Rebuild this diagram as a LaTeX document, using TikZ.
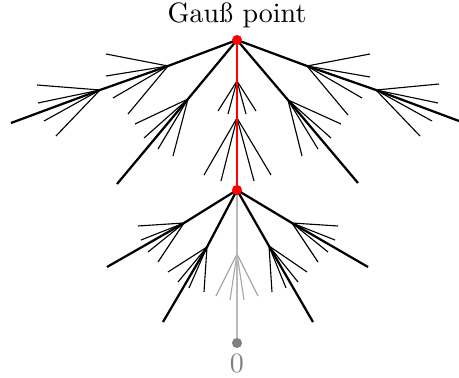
\documentclass[tikz,border=0pt]{standalone}
\usepackage{tikz}

\tikzset{
  branch/.style={thick},
  twig/.style={thin},
  apex/.style={circle, inner sep=0pt, minimum size=3.6pt},
}

\begin{document}
\begin{tikzpicture}[x=0.357pt, y=-0.357pt]
    \useasboundingbox (0,0) rectangle (459,378);

    % Points on the vertical path
    \coordinate (gauss) at (237,40);
    \coordinate (mid) at (237,190);
    \coordinate (zero) at (237,343);

    % Branch points
    \coordinate (ua1) at (168,66);
    \coordinate (ua2) at (100,90);
    \coordinate (ub) at (188,99);
    \coordinate (uc) at (288,100);
    \coordinate (ud1) at (307,66);
    \coordinate (ud2) at (376,90);
    \coordinate (ra) at (237,81);
    \coordinate (rb) at (237,118);
    \coordinate (la) at (184,223);
    \coordinate (lb) at (207,247);
    \coordinate (lc) at (269,246);
    \coordinate (ld) at (292,223);
    \coordinate (ga) at (237,254);

    % Ends of the thick branches
    \coordinate (uaend) at (11,123);
    \coordinate (ubend) at (117,184);
    \coordinate (ucend) at (358,183);
    \coordinate (udend) at (459,121);
    \coordinate (laend) at (107,267);
    \coordinate (lbend) at (163,322);
    \coordinate (lcend) at (313,322);
    \coordinate (ldend) at (368,267);

    % Thin fans, upper half
    \foreach \x/\y [count=\i] in {106/54,106/76,113/98,128/114}
        {\coordinate (ua1-\i) at (\x,\y); \draw[twig] (ua1) -- (ua1-\i);}
    \foreach \x/\y [count=\i] in {37/85,38/103,44/121,56/136}
        {\coordinate (ua2-\i) at (\x,\y); \draw[twig] (ua2) -- (ua2-\i);}
    \foreach \x/\y [count=\i] in {135/124,144/138,158/149,173/156}
        {\coordinate (ub-\i) at (\x,\y); \draw[twig] (ub) -- (ub-\i);}
    \foreach \x/\y [count=\i] in {341/124,331/138,318/149,302/156}
        {\coordinate (uc-\i) at (\x,\y); \draw[twig] (uc) -- (uc-\i);}
    \foreach \x/\y [count=\i] in {370/54,370/77,362/98,348/115}
        {\coordinate (ud1-\i) at (\x,\y); \draw[twig] (ud1) -- (ud1-\i);}
    \foreach \x/\y [count=\i] in {439/84,438/103,432/121,420/136}
        {\coordinate (ud2-\i) at (\x,\y); \draw[twig] (ud2) -- (ud2-\i);}
    \foreach \x/\y [count=\i] in {218/111,228/114,246/114,256/111}
        {\coordinate (ra-\i) at (\x,\y); \draw[twig] (ra) -- (ra-\i);}
    \foreach \x/\y [count=\i] in {204/175,221/181,254/181,271/175}
        {\coordinate (rb-\i) at (\x,\y); \draw[twig] (rb) -- (rb-\i);}

    % Thin fans, lower half
    \foreach \x/\y [count=\i] in {138/226,141/240,148/252,158/262}
        {\coordinate (la-\i) at (\x,\y); \draw[twig] (la) -- (la-\i);}
    \foreach \x/\y [count=\i] in {168/272,178/282,189/288,204/292}
        {\coordinate (lb-\i) at (\x,\y); \draw[twig] (lb) -- (lb-\i);}
    \foreach \x/\y [count=\i] in {307/272,298/282,286/288,272/292}
        {\coordinate (lc-\i) at (\x,\y); \draw[twig] (lc) -- (lc-\i);}
    \foreach \x/\y [count=\i] in {338/226,335/240,328/252,318/262}
        {\coordinate (ld-\i) at (\x,\y); \draw[twig] (ld) -- (ld-\i);}
    \foreach \x/\y [count=\i] in {216/296,230/300,244/300,258/296}
        {\coordinate (ga-\i) at (\x,\y); \draw[twig, gray!70] (ga) -- (ga-\i);}

    % Thick branches
    \draw[branch] (gauss) -- (ua1) -- (ua2) -- (uaend);
    \draw[branch] (gauss) -- (ub) -- (ubend);
    \draw[branch] (gauss) -- (uc) -- (ucend);
    \draw[branch] (gauss) -- (ud1) -- (ud2) -- (udend);
    \draw[branch] (mid) -- (la) -- (laend);
    \draw[branch] (mid) -- (lb) -- (lbend);
    \draw[branch] (mid) -- (lc) -- (lcend);
    \draw[branch] (mid) -- (ld) -- (ldend);

    % Path down to 0
    \draw[branch, gray!55] (mid) -- (ga) -- (zero);
    \draw[branch, red] (gauss) -- (ra) -- (rb) -- (mid);

    % Dots and labels
    \node[apex, fill=red] (gaussdot) at (gauss) {};
    \node[apex, fill=red] (middot) at (mid) {};
    \node[apex, fill=gray] (zerodot) at (zero) {};
    \node[anchor=base] (gausslabel) at (237,23) {Gauß point};
    \node[anchor=base, text=gray] (zerolabel) at (237,372) {0};
\end{tikzpicture}
\end{document}
